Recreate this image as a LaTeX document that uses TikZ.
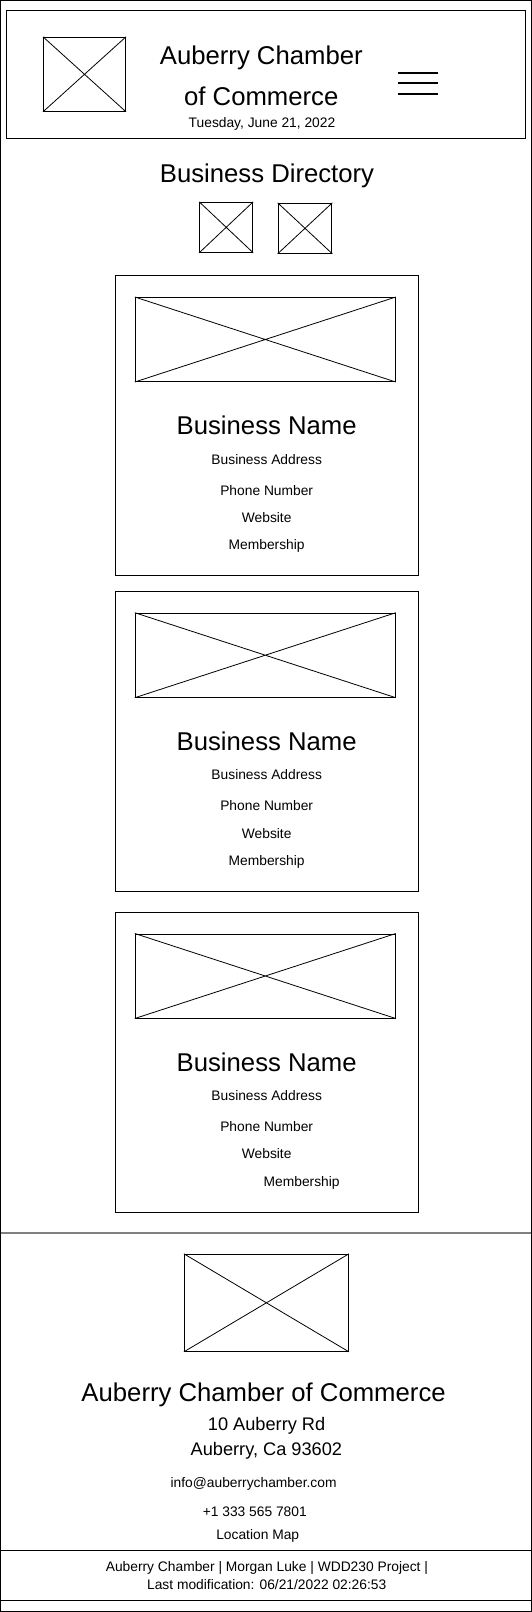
\documentclass[tikz,border=0pt]{standalone}
\usepackage{fontspec}
\setmainfont{Liberation Sans}
\usepackage{xcolor}
\usepackage{tikz}

\definecolor{sepgray}{RGB}{128,128,128}

\tikzset{
  imgbox/.style={draw, line width=1pt, inner sep=0pt},
  cardbox/.style={draw, line width=1pt, inner sep=0pt},
  xline/.style={line width=0.8pt},
  bigtxt/.style={inner sep=0pt, text height=18.4pt, text depth=0pt, font=\fontsize{25.7}{30}\selectfont},
  midtxt/.style={inner sep=0pt, text height=13pt, text depth=0pt, font=\fontsize{18.2}{22}\selectfont},
  smalltxt/.style={inner sep=0pt, text height=9.9pt, text depth=0pt, font=\fontsize{13.8}{16}\selectfont},
}

\begin{document}
\begin{tikzpicture}[x=1pt, y=-1pt]
  \useasboundingbox (0,0) rectangle (532,1612);
  % page frame and header
  \draw[line width=1pt] (0.5,0.5) rectangle (531,1611);
  \draw[line width=1pt] (6.4,10) rectangle (525.3,138);
  \node[imgbox, minimum width=82pt, minimum height=74pt] (logo) at (84.5,74.3) {};
  \draw[xline] (logo.north west) -- (logo.south east) (logo.north east) -- (logo.south west);
  \node[bigtxt] (title1) at (261.3,55) {Auberry Chamber};
  \node[bigtxt] (title2) at (261.3,96) {of Commerce};
  \node[smalltxt] (today) at (262,122.7) {Tuesday, June 21, 2022};
  \foreach \hy in {73.3, 83.3, 93.7}
    \draw[line width=2pt] (398,\hy) -- (437.7,\hy);

  % directory heading and view icons
  \node[bigtxt] (dirhead) at (267,173.3) {Business Directory};
  \node[imgbox, minimum width=53pt, minimum height=50pt] (gridicon) at (226.2,227.3) {};
  \draw[xline] (gridicon.north west) -- (gridicon.south east) (gridicon.north east) -- (gridicon.south west);
  \node[imgbox, minimum width=53.7pt, minimum height=50pt] (listicon) at (305,228.3) {};
  \draw[xline] (listicon.north west) -- (listicon.south east) (listicon.north east) -- (listicon.south west);

  % business cards
  \foreach \cy/\memx [count=\i] in {275/266.7, 590.7/266.7, 911.5/301.7} {
    \node[cardbox, minimum width=303pt, minimum height=300pt, anchor=north] (card\i) at (266.8,\cy) {};
    \node[imgbox, minimum width=260pt, minimum height=84pt, anchor=north] (cimg\i) at (265.3,\cy+22) {};
    \draw[xline] (cimg\i.north west) -- (cimg\i.south east) (cimg\i.north east) -- (cimg\i.south west);
    \node[bigtxt] (cname\i) at (266.7,\cy+150.5) {Business Name};
    \node[smalltxt] (caddr\i) at (266.7,\cy+184.3) {Business Address};
    \node[smalltxt] (cphone\i) at (266.7,\cy+215.3) {Phone Number};
    \node[smalltxt] (cweb\i) at (266.7,\cy+242.4) {Website};
    \node[smalltxt] (cmem\i) at (\memx,\cy+269.6) {Membership};
  }

  % footer
  \draw[sepgray, line width=2pt] (0.5,1232.7) -- (531,1232.7);
  \node[imgbox, minimum width=164pt, minimum height=97pt] (flogo) at (266.4,1302.8) {};
  \draw[xline] (flogo.north west) -- (flogo.south east) (flogo.north east) -- (flogo.south west);
  \node[bigtxt] (ftitle) at (263.6,1392.3) {Auberry Chamber of Commerce};
  \node[midtxt] (street) at (266.6,1424.3) {10 Auberry Rd};
  \node[midtxt] (city) at (266.4,1449.3) {Auberry, Ca 93602};
  \node[smalltxt] (email) at (253.6,1482.7) {info@auberrychamber.com};
  \node[smalltxt] (phone) at (254.8,1511.7) {+1 333 565 7801};
  \node[smalltxt] (map) at (257.7,1535) {Location Map};
  \draw[line width=1pt] (0.5,1550) -- (531,1550);
  \node[smalltxt] (credits) at (266.9,1566.7) {Auberry Chamber | Morgan Luke | WDD230 Project |};
  \node[smalltxt] (lastmod) at (266.7,1585) {Last modification: 06/21/2022 02:26:53};
  \draw[line width=1pt] (0.5,1600.7) -- (531,1600.7);
\end{tikzpicture}
\end{document}
